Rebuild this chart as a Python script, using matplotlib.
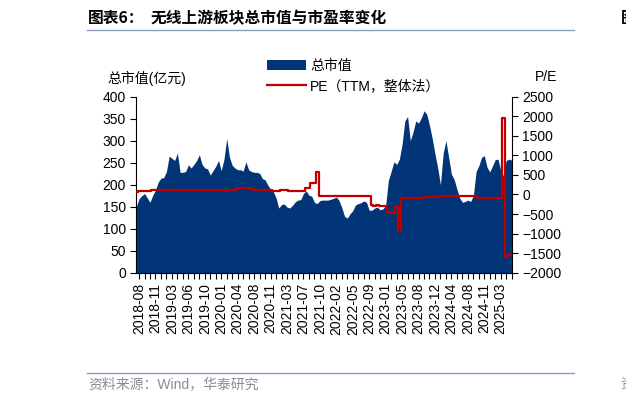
import numpy as np
import matplotlib
matplotlib.use("Agg")
import matplotlib.pyplot as plt
from matplotlib.lines import Line2D

# ---- data (one point per ~2 weeks, labels every 6 points) ----
xlabels = ["2018-08", "2018-11", "2019-03", "2019-06", "2019-10", "2020-01",
           "2020-04", "2020-08", "2020-11", "2021-03", "2021-07", "2021-10",
           "2022-02", "2022-05", "2022-09", "2023-01", "2023-05", "2023-08",
           "2023-12", "2024-04", "2024-08", "2024-11", "2025-03"]

# 总市值 (亿元)
mktcap = [150, 168, 175, 180, 170, 160, 176, 188, 206, 215,
          216, 230, 265, 260, 255, 272, 228, 228, 230, 245,
          238, 246, 255, 268, 246, 238, 236, 222, 232, 242,
          255, 232, 258, 305, 262, 244, 238, 234, 234, 231,
          252, 234, 230, 228, 228, 226, 214, 211, 199, 190,
          184, 170, 147, 155, 156, 149, 147, 153, 161, 165,
          166, 180, 186, 176, 174, 160, 157, 164, 165, 165,
          165, 167, 169, 172, 164, 148, 128, 124, 134, 141,
          154, 157, 159, 163, 160, 142, 142, 147, 149, 143,
          145, 153, 210, 230, 252, 246, 258, 292, 345, 355,
          300, 320, 345, 340, 352, 368, 360, 335, 305, 270,
          238, 200, 272, 300, 262, 224, 212, 190, 170, 160,
          162, 165, 162, 175, 230, 243, 262, 266, 240, 229,
          243, 257, 258, 232, 220, 255, 258, 256]

# PE (TTM, 整体法)
pe = [75, 78, 80, 80, 85, 100, 105, 110, 115, 115,
      118, 120, 120, 122, 120, 120, 118, 120, 122, 120,
      120, 118, 120, 122, 120, 120, 105, 102, 105, 105,
      108, 118, 118, 120, 118, 118, 118, 155, 158, 155,
      155, 158, 155, 118, 118, 120, 118, 118, 118, 118,
      100, 98, 100, 120, 122, 120, 90, 88, 90, 90,
      88, 90, 155, 158, 300, 300, 582, -40, -40, -38,
      -40, -42, -40, -38, -40, -40, -42, -40, -38, -40,
      -40, -40, -42, -40, -38, -40, -280, -285, -280, -290,
      -285, -300, -440, -480, -480, -300, -910, -85, -85, -82,
      -85, -85, -88, -85, -85, -82, -70, -70, -68, -70,
      -70, -45, -45, -42, -45, -45, -48, -45, -45, -42,
      -45, -45, -45, -48, -45, -80, -80, -82, -80, -80,
      -78, -80, -80, -80, 1950, -1590, -1530, -1560]

BLUE = "#023577"
RED = "#c00000"
GRAY_LINE = "#8a9dc2"

plt.rcParams['font.family'] = ['Liberation Sans', 'Noto Sans CJK SC']
plt.rcParams['font.size'] = 10

W, H = 626, 403
fig = plt.figure(figsize=(W / 100, H / 100), dpi=100)

def fx(px): return px / W
def fy(py): return 1 - py / H

ax = fig.add_axes([fx(136.3), fy(272.7), fx(511.7) - fx(136.3), fy(96.7) - fy(272.7)])
ax2 = ax.twinx()

x = np.arange(len(mktcap))
h1 = ax.fill_between(x, 0, mktcap, color=BLUE, lw=0, label="总市值")
h2, = ax2.plot(x, pe, color=RED, lw=1.6, drawstyle="steps-mid",
               label="PE（TTM，整体法）")

ax.set_xlim(0, len(mktcap) - 1)
ax.set_ylim(0, 400)
ax.set_yticks(np.arange(0, 401, 50))
ax2.set_ylim(-2000, 2500)
ax2.set_yticks(np.arange(-2000, 2501, 500))

lab_pos = [1 + 6 * k for k in range(len(xlabels))]
ax.set_xticks(lab_pos)
ax.set_xticklabels(xlabels, rotation=90)
ax.set_xticks(np.arange(1, len(mktcap), 2), minor=True)

for a in (ax, ax2):
    a.spines["top"].set_visible(False)
    a.tick_params(which="both", direction="out", length=4, width=0.8, colors="black",
                  labelsize=10)
ax.spines["right"].set_visible(False)
ax2.spines["left"].set_visible(False)
ax2.spines["bottom"].set_visible(False)
ax.tick_params(axis="x", which="minor", length=4)

# axis titles
fig.text(fx(147), fy(78), "总市值(亿元)", ha="center", va="center", fontsize=10)
fig.text(fx(546), fy(77), "P/E", ha="center", va="center", fontsize=10)

# legend
leg = ax2.legend([h1, h2], ["总市值", "PE（TTM，整体法）"], loc="upper left",
                 bbox_to_anchor=(fx(267), fy(59)), bbox_transform=fig.transFigure,
                 frameon=False, borderpad=0, borderaxespad=0, handlelength=2.8,
                 handletextpad=0.3, labelspacing=0.45, fontsize=10)

# title + rules
fig.text(fx(88), fy(18), "图表6：", ha="left", va="center", fontsize=11.3,
         fontweight="bold", family="Noto Sans CJK SC")
fig.text(fx(151), fy(18), "无线上游板块总市值与市盈率变化", ha="left", va="center",
         fontsize=11.3, fontweight="bold", family="Noto Sans CJK SC")
fig.add_artist(Line2D([fx(87), fx(574)], [fy(29.5), fy(29.5)], color=GRAY_LINE, lw=1))
fig.add_artist(Line2D([fx(87), fx(574)], [fy(373), fy(373)], color=GRAY_LINE, lw=1))
fig.text(fx(88), fy(384), "资料来源：Wind，华泰研究", ha="left", va="center",
         fontsize=10, color="#8c8c8c")

# cut-off pieces of the next chart at the right edge
fig.text(fx(621), fy(18), "图", ha="left", va="center", fontsize=11.3,
         fontweight="bold", family="Noto Sans CJK SC")
fig.text(fx(620), fy(384), "资", ha="left", va="center", fontsize=10, color="#8c8c8c")

fig.savefig("out.png", dpi=100)
